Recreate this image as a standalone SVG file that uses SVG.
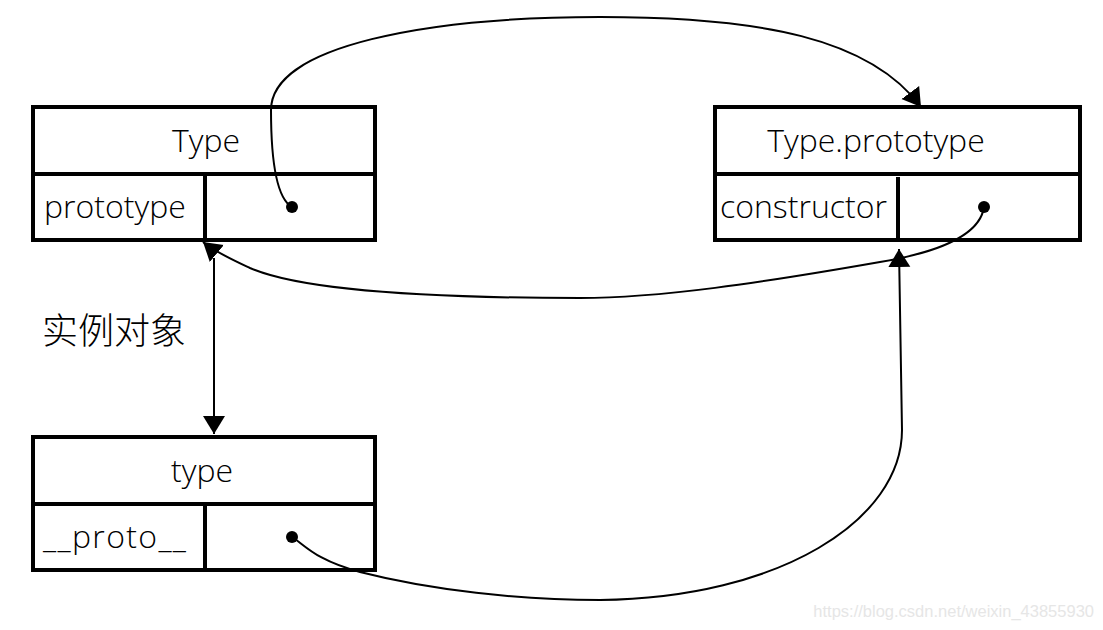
<svg xmlns="http://www.w3.org/2000/svg" width="1103" height="630" viewBox="0 0 1103 630">
<style>
.box{fill:none;stroke:#000;stroke-width:4}
.div{stroke:#000;stroke-width:4}
.t{font-family:"Open Sans","Noto Sans",sans-serif;font-size:32px;font-weight:300;fill:#000}
.cjk{font-family:"Noto Sans CJK SC",sans-serif;font-size:36px;font-weight:300;fill:#000}
.conn{fill:none;stroke:#000;stroke-width:2}
.dot{fill:#000}
.wm{font-family:"Liberation Sans",Arial,sans-serif;font-size:16.5px;fill:#e6e6e6}
</style>
<defs>
<marker id="arr" markerUnits="userSpaceOnUse" markerWidth="22" markerHeight="24" viewBox="0 0 22 24" refX="18" refY="12" orient="auto">
<path d="M0,1 L18,12 L0,23 Z" fill="#000"/>
</marker>
</defs>
<rect width="1103" height="630" fill="#fff"/>
<g id="node-Type">
<rect class="box" x="33" y="107" width="342" height="133"/>
<line class="div" x1="33" y1="174" x2="375" y2="174"/>
<line class="div" x1="205" y1="174" x2="205" y2="240"/>
<text class="t" x="206" y="152" text-anchor="middle">Type</text>
<text class="t" x="44" y="218">prototype</text>
<circle class="dot" cx="292" cy="207" r="6"/>
</g>
<g id="node-TypePrototype">
<rect class="box" x="715" y="107" width="365" height="133"/>
<line class="div" x1="715" y1="174" x2="1080" y2="174"/>
<line class="div" x1="898" y1="177" x2="898" y2="240"/>
<text class="t" x="876" y="152" text-anchor="middle">Type.prototype</text>
<text class="t" x="720" y="218">constructor</text>
<circle class="dot" cx="984" cy="207" r="6"/>
</g>
<g id="node-type">
<rect class="box" x="33" y="437" width="342" height="133"/>
<line class="div" x1="33" y1="504" x2="375" y2="504"/>
<line class="div" x1="205" y1="504" x2="205" y2="570"/>
<text class="t" x="202" y="482" text-anchor="middle">type</text>
<text class="t" x="43" y="548" textLength="143" lengthAdjust="spacing">__proto__</text>
<circle class="dot" cx="292" cy="537" r="6"/>
</g>
<g id="label-instance">
<text class="cjk" x="42" y="344">实例对象</text>
</g>
<g id="connectors">
<path class="conn" d="M292,207 C276,198 271,160 271,110 C271,45 430,17 600,17 C760,17 870,38 921,107" marker-end="url(#arr)"/>
<path class="conn" d="M984,207 C980,235 940,252 880,262 C760,283 660,298 580,298 C430,298 300,290 250,268 C235,261 215,252 203,242" marker-end="url(#arr)"/>
<path class="conn" d="M214,258 L214,434" marker-end="url(#arr)"/>
<path class="conn" d="M292,537 C305,545 315,560 360,572 C430,590 520,600 600,600 C780,598 902,520 902,430 L899,249" marker-end="url(#arr)"/>
</g>
<text class="wm" x="1094" y="617" text-anchor="end">https://blog.csdn.net/weixin_43855930</text>
</svg>
